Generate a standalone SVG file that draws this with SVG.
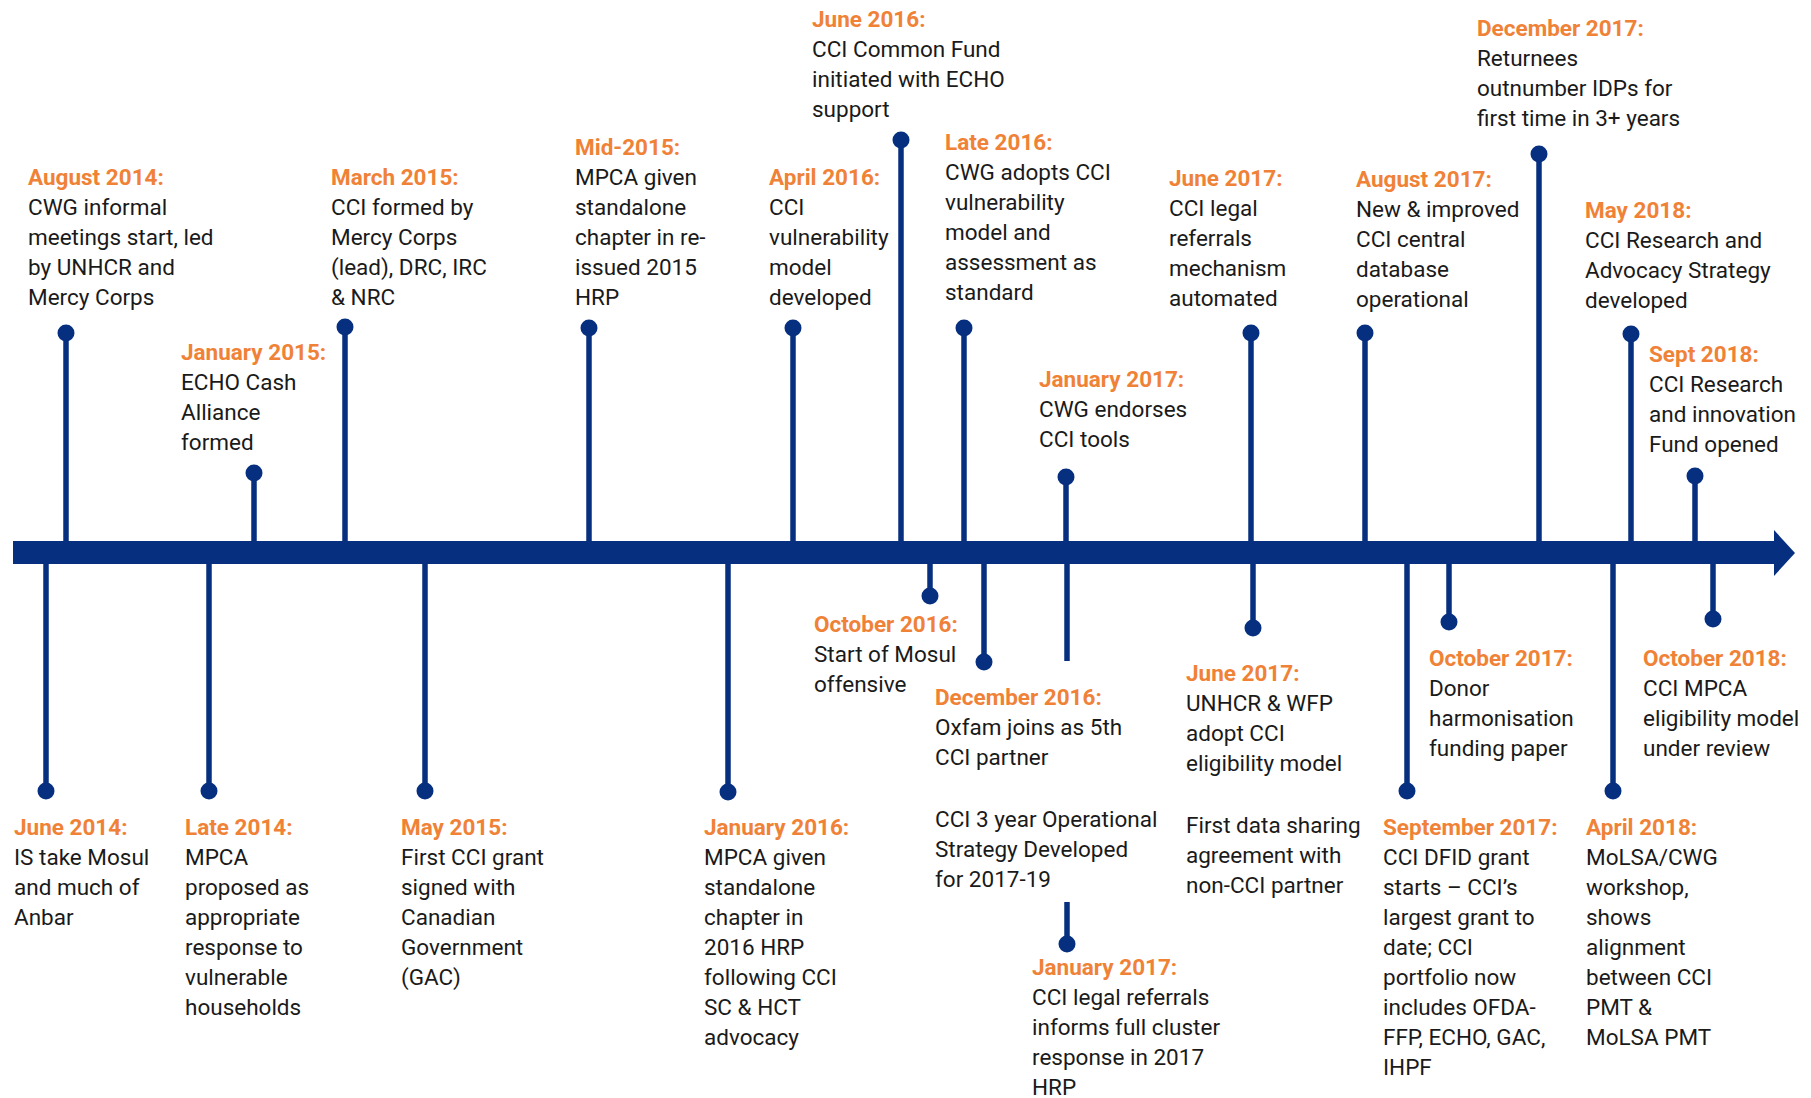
<svg xmlns="http://www.w3.org/2000/svg" width="1811" height="1098" viewBox="0 0 1811 1098">
<style>
text{font-family:Roboto,"Liberation Sans",sans-serif;font-size:22.5px;fill:#1a1a1a}
.h{font-weight:700;fill:#EF8237}
.stem{stroke:#062F7F;stroke-width:5.5;fill:none}
.dot{fill:#062F7F}
</style>
<rect width="1811" height="1098" fill="#ffffff"/>
<g id="connectors">
<rect x="13" y="541" width="1762" height="23" fill="#062F7F"/>
<polygon points="1774,530 1795,553 1774,576" fill="#062F7F"/>
<line class="stem" x1="66" y1="333" x2="66" y2="545"/>
<line class="stem" x1="254" y1="473" x2="254" y2="545"/>
<line class="stem" x1="345" y1="327" x2="345" y2="545"/>
<line class="stem" x1="589" y1="328" x2="589" y2="545"/>
<line class="stem" x1="793" y1="328" x2="793" y2="545"/>
<line class="stem" x1="901" y1="140" x2="901" y2="545"/>
<line class="stem" x1="964" y1="328" x2="964" y2="545"/>
<line class="stem" x1="1066" y1="477" x2="1066" y2="545"/>
<line class="stem" x1="1251" y1="333" x2="1251" y2="545"/>
<line class="stem" x1="1365" y1="333" x2="1365" y2="545"/>
<line class="stem" x1="1539" y1="154" x2="1539" y2="545"/>
<line class="stem" x1="1631" y1="334" x2="1631" y2="545"/>
<line class="stem" x1="1695" y1="476" x2="1695" y2="545"/>
<line class="stem" x1="46" y1="560" x2="46" y2="791"/>
<line class="stem" x1="209" y1="560" x2="209" y2="791"/>
<line class="stem" x1="425" y1="560" x2="425" y2="791"/>
<line class="stem" x1="728" y1="560" x2="728" y2="792"/>
<line class="stem" x1="930" y1="560" x2="930" y2="596"/>
<line class="stem" x1="984" y1="560" x2="984" y2="662"/>
<line class="stem" x1="1067" y1="560" x2="1067" y2="661"/>
<line class="stem" x1="1067" y1="902" x2="1067" y2="944"/>
<line class="stem" x1="1253" y1="560" x2="1253" y2="628"/>
<line class="stem" x1="1407" y1="560" x2="1407" y2="791"/>
<line class="stem" x1="1449" y1="560" x2="1449" y2="622"/>
<line class="stem" x1="1613" y1="560" x2="1613" y2="791"/>
<line class="stem" x1="1713" y1="560" x2="1713" y2="619"/>
</g>
<g id="aug2014"><circle class="dot" cx="66" cy="333" r="8.5"/><text x="28" y="185"><tspan class="h">August 2014:</tspan><tspan x="28" y="215">CWG informal</tspan><tspan x="28" y="245">meetings start, led</tspan><tspan x="28" y="275">by UNHCR and</tspan><tspan x="28" y="305">Mercy Corps</tspan></text></g>
<g id="jan2015"><circle class="dot" cx="254" cy="473" r="8.5"/><text x="181" y="360"><tspan class="h">January 2015:</tspan><tspan x="181" y="390">ECHO Cash</tspan><tspan x="181" y="420">Alliance</tspan><tspan x="181" y="450">formed</tspan></text></g>
<g id="mar2015"><circle class="dot" cx="345" cy="327" r="8.5"/><text x="331" y="185"><tspan class="h">March 2015:</tspan><tspan x="331" y="215">CCI formed by</tspan><tspan x="331" y="245">Mercy Corps</tspan><tspan x="331" y="275">(lead), DRC, IRC</tspan><tspan x="331" y="305">&amp; NRC</tspan></text></g>
<g id="mid2015"><circle class="dot" cx="589" cy="328" r="8.5"/><text x="575" y="155"><tspan class="h">Mid-2015:</tspan><tspan x="575" y="185">MPCA given</tspan><tspan x="575" y="215">standalone</tspan><tspan x="575" y="245">chapter in re-</tspan><tspan x="575" y="275">issued 2015</tspan><tspan x="575" y="305">HRP</tspan></text></g>
<g id="apr2016"><circle class="dot" cx="793" cy="328" r="8.5"/><text x="769" y="185"><tspan class="h">April 2016:</tspan><tspan x="769" y="215">CCI</tspan><tspan x="769" y="245">vulnerability</tspan><tspan x="769" y="275">model</tspan><tspan x="769" y="305">developed</tspan></text></g>
<g id="jun2016"><circle class="dot" cx="901" cy="140" r="8.5"/><text x="812" y="27"><tspan class="h">June 2016:</tspan><tspan x="812" y="57">CCI Common Fund</tspan><tspan x="812" y="87">initiated with ECHO</tspan><tspan x="812" y="117">support</tspan></text></g>
<g id="late2016"><circle class="dot" cx="964" cy="328" r="8.5"/><text x="945" y="150"><tspan class="h">Late 2016:</tspan><tspan x="945" y="180">CWG adopts CCI</tspan><tspan x="945" y="210">vulnerability</tspan><tspan x="945" y="240">model and</tspan><tspan x="945" y="270">assessment as</tspan><tspan x="945" y="300">standard</tspan></text></g>
<g id="jan2017a"><circle class="dot" cx="1066" cy="477" r="8.5"/><text x="1039" y="387"><tspan class="h">January 2017:</tspan><tspan x="1039" y="417">CWG endorses</tspan><tspan x="1039" y="447">CCI tools</tspan></text></g>
<g id="jun2017a"><circle class="dot" cx="1251" cy="333" r="8.5"/><text x="1169" y="186"><tspan class="h">June 2017:</tspan><tspan x="1169" y="216">CCI legal</tspan><tspan x="1169" y="246">referrals</tspan><tspan x="1169" y="276">mechanism</tspan><tspan x="1169" y="306">automated</tspan></text></g>
<g id="aug2017"><circle class="dot" cx="1365" cy="333" r="8.5"/><text x="1356" y="187"><tspan class="h">August 2017:</tspan><tspan x="1356" y="217">New &amp; improved</tspan><tspan x="1356" y="247">CCI central</tspan><tspan x="1356" y="277">database</tspan><tspan x="1356" y="307">operational</tspan></text></g>
<g id="dec2017"><circle class="dot" cx="1539" cy="154" r="8.5"/><text x="1477" y="36"><tspan class="h">December 2017:</tspan><tspan x="1477" y="66">Returnees</tspan><tspan x="1477" y="96">outnumber IDPs for</tspan><tspan x="1477" y="126">first time in 3+ years</tspan></text></g>
<g id="may2018"><circle class="dot" cx="1631" cy="334" r="8.5"/><text x="1585" y="218"><tspan class="h">May 2018:</tspan><tspan x="1585" y="248">CCI Research and</tspan><tspan x="1585" y="278">Advocacy Strategy</tspan><tspan x="1585" y="308">developed</tspan></text></g>
<g id="sep2018"><circle class="dot" cx="1695" cy="476" r="8.5"/><text x="1649" y="362"><tspan class="h">Sept 2018:</tspan><tspan x="1649" y="392">CCI Research</tspan><tspan x="1649" y="422">and innovation</tspan><tspan x="1649" y="452">Fund opened</tspan></text></g>
<g id="jun2014"><circle class="dot" cx="46" cy="791" r="8.5"/><text x="14" y="835"><tspan class="h">June 2014:</tspan><tspan x="14" y="865">IS take Mosul</tspan><tspan x="14" y="895">and much of</tspan><tspan x="14" y="925">Anbar</tspan></text></g>
<g id="late2014"><circle class="dot" cx="209" cy="791" r="8.5"/><text x="185" y="835"><tspan class="h">Late 2014:</tspan><tspan x="185" y="865">MPCA</tspan><tspan x="185" y="895">proposed as</tspan><tspan x="185" y="925">appropriate</tspan><tspan x="185" y="955">response to</tspan><tspan x="185" y="985">vulnerable</tspan><tspan x="185" y="1015">households</tspan></text></g>
<g id="may2015"><circle class="dot" cx="425" cy="791" r="8.5"/><text x="401" y="835"><tspan class="h">May 2015:</tspan><tspan x="401" y="865">First CCI grant</tspan><tspan x="401" y="895">signed with</tspan><tspan x="401" y="925">Canadian</tspan><tspan x="401" y="955">Government</tspan><tspan x="401" y="985">(GAC)</tspan></text></g>
<g id="jan2016"><circle class="dot" cx="728" cy="792" r="8.5"/><text x="704" y="835"><tspan class="h">January 2016:</tspan><tspan x="704" y="865">MPCA given</tspan><tspan x="704" y="895">standalone</tspan><tspan x="704" y="925">chapter in</tspan><tspan x="704" y="955">2016 HRP</tspan><tspan x="704" y="985">following CCI</tspan><tspan x="704" y="1015">SC &amp; HCT</tspan><tspan x="704" y="1045">advocacy</tspan></text></g>
<g id="oct2016"><circle class="dot" cx="930" cy="596" r="8.5"/><text x="814" y="632"><tspan class="h">October 2016:</tspan><tspan x="814" y="662">Start of Mosul</tspan><tspan x="814" y="692">offensive</tspan></text></g>
<g id="dec2016"><circle class="dot" cx="984" cy="662" r="8.5"/><text x="935" y="705"><tspan class="h">December 2016:</tspan><tspan x="935" y="735">Oxfam joins as 5th</tspan><tspan x="935" y="765">CCI partner</tspan><tspan x="935" y="827">CCI 3 year Operational</tspan><tspan x="935" y="857">Strategy Developed</tspan><tspan x="935" y="887">for 2017-19</tspan></text></g>
<g id="jan2017b"><circle class="dot" cx="1067" cy="944" r="8.5"/><text x="1032" y="975"><tspan class="h">January 2017:</tspan><tspan x="1032" y="1005">CCI legal referrals</tspan><tspan x="1032" y="1035">informs full cluster</tspan><tspan x="1032" y="1065">response in 2017</tspan><tspan x="1032" y="1095">HRP</tspan></text></g>
<g id="jun2017b"><circle class="dot" cx="1253" cy="628" r="8.5"/><text x="1186" y="681"><tspan class="h">June 2017:</tspan><tspan x="1186" y="711">UNHCR &amp; WFP</tspan><tspan x="1186" y="741">adopt CCI</tspan><tspan x="1186" y="771">eligibility model</tspan><tspan x="1186" y="833">First data sharing</tspan><tspan x="1186" y="863">agreement with</tspan><tspan x="1186" y="893">non-CCI partner</tspan></text></g>
<g id="sep2017"><circle class="dot" cx="1407" cy="791" r="8.5"/><text x="1383" y="835"><tspan class="h">September 2017:</tspan><tspan x="1383" y="865">CCI DFID grant</tspan><tspan x="1383" y="895">starts – CCI’s</tspan><tspan x="1383" y="925">largest grant to</tspan><tspan x="1383" y="955">date; CCI</tspan><tspan x="1383" y="985">portfolio now</tspan><tspan x="1383" y="1015">includes OFDA-</tspan><tspan x="1383" y="1045">FFP, ECHO, GAC,</tspan><tspan x="1383" y="1075">IHPF</tspan></text></g>
<g id="oct2017"><circle class="dot" cx="1449" cy="622" r="8.5"/><text x="1429" y="666"><tspan class="h">October 2017:</tspan><tspan x="1429" y="696">Donor</tspan><tspan x="1429" y="726">harmonisation</tspan><tspan x="1429" y="756">funding paper</tspan></text></g>
<g id="apr2018"><circle class="dot" cx="1613" cy="791" r="8.5"/><text x="1586" y="835"><tspan class="h">April 2018:</tspan><tspan x="1586" y="865">MoLSA/CWG</tspan><tspan x="1586" y="895">workshop,</tspan><tspan x="1586" y="925">shows</tspan><tspan x="1586" y="955">alignment</tspan><tspan x="1586" y="985">between CCI</tspan><tspan x="1586" y="1015">PMT &amp;</tspan><tspan x="1586" y="1045">MoLSA PMT</tspan></text></g>
<g id="oct2018"><circle class="dot" cx="1713" cy="619" r="8.5"/><text x="1643" y="666"><tspan class="h">October 2018:</tspan><tspan x="1643" y="696">CCI MPCA</tspan><tspan x="1643" y="726">eligibility model</tspan><tspan x="1643" y="756">under review</tspan></text></g>
</svg>
